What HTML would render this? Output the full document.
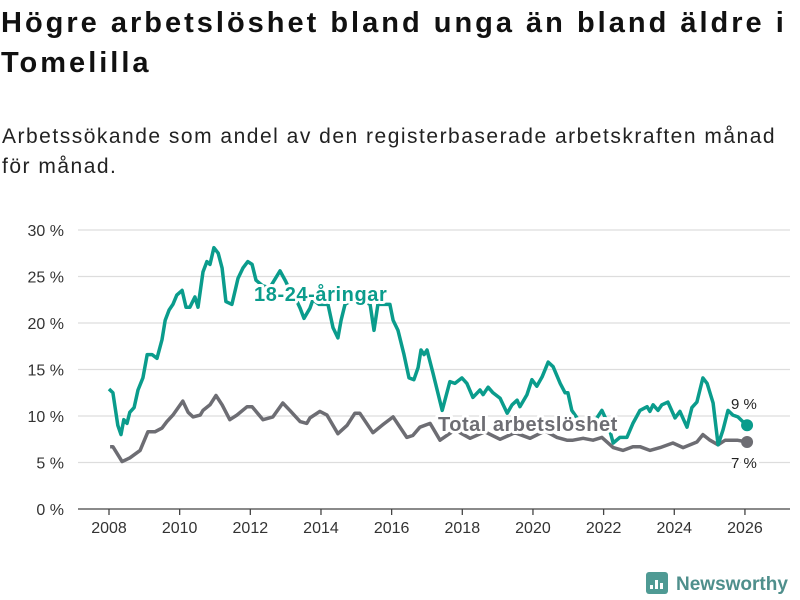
<!DOCTYPE html>
<html><head><meta charset="utf-8">
<style>
body{margin:0;width:800px;height:600px;background:#fff;font-family:"Liberation Sans",sans-serif;overflow:hidden;position:relative;color:#111}
h1{position:absolute;left:1px;top:3px;margin:0;font-size:29px;line-height:40px;font-weight:bold;width:800px;letter-spacing:3px;white-space:nowrap}
p{position:absolute;left:2px;top:122px;margin:0;font-size:21px;line-height:30px;color:#222;width:800px;letter-spacing:1.5px;white-space:nowrap}
svg{position:absolute;left:0;top:0}
</style></head><body>
<h1>Högre arbetslöshet bland unga än bland äldre i<br>Tomelilla</h1>
<p>Arbetssökande som andel av den registerbaserade arbetskraften månad<br>för månad.</p>
<svg id="chart" width="800" height="600"></svg>
<script>
const youthYears=[2008.00,2008.11,2008.25,2008.34,2008.42,2008.51,2008.59,2008.71,2008.82,2008.96,2009.08,2009.22,2009.36,2009.50,2009.59,2009.70,2009.81,2009.92,2010.07,2010.18,2010.29,2010.43,2010.52,2010.66,2010.77,2010.86,2010.97,2011.09,2011.20,2011.31,2011.48,2011.65,2011.79,2011.93,2012.05,2012.16,2012.35,2012.55,2012.84,2013.00,2013.12,2013.30,2013.41,2013.52,2013.69,2013.77,2013.95,2014.20,2014.34,2014.48,2014.57,2014.68,2014.90,2015.15,2015.39,2015.50,2015.61,2015.95,2016.04,2016.18,2016.35,2016.49,2016.63,2016.75,2016.83,2016.92,2017.00,2017.17,2017.43,2017.65,2017.79,2017.99,2018.13,2018.30,2018.50,2018.59,2018.73,2018.87,2019.07,2019.27,2019.41,2019.55,2019.63,2019.83,2019.97,2020.11,2020.26,2020.43,2020.57,2020.77,2020.91,2020.99,2021.10,2021.30,2021.47,2021.76,2021.95,2022.12,2022.27,2022.46,2022.66,2022.83,2023.03,2023.23,2023.31,2023.40,2023.54,2023.65,2023.82,2024.02,2024.16,2024.36,2024.50,2024.64,2024.81,2024.93,2025.10,2025.24,2025.38,2025.52,2025.66,2025.80,2025.94,2026.06];
const youthValues=[12.9,12.5,9.0,8.0,9.6,9.2,10.4,10.9,12.8,14.1,16.6,16.6,16.2,18.2,20.3,21.4,22.0,23.0,23.5,21.7,21.7,22.8,21.7,25.5,26.6,26.3,28.1,27.5,25.9,22.3,22.0,24.8,25.9,26.6,26.3,24.6,24.0,23.8,25.6,24.5,23.5,22.5,21.6,20.5,21.6,22.5,22.0,22.0,19.5,18.4,20.3,22.0,22.5,22.5,22.0,19.2,22.0,22.0,20.3,19.2,16.6,14.1,13.9,15.2,17.1,16.6,17.1,14.6,10.6,13.7,13.5,14.1,13.5,12.0,12.8,12.3,13.1,12.5,11.9,10.3,11.2,11.7,11.0,12.3,13.9,13.2,14.2,15.8,15.3,13.5,12.5,12.5,10.6,9.5,9.0,9.5,10.6,9.2,7.1,7.7,7.7,9.2,10.6,11.0,10.5,11.2,10.6,11.2,11.5,9.8,10.5,8.8,10.9,11.5,14.1,13.5,11.4,6.9,8.5,10.6,10.1,9.9,9.4,9.0];
const totalYears=[2008.03,2008.11,2008.37,2008.59,2008.88,2009.10,2009.30,2009.50,2009.64,2009.81,2010.09,2010.24,2010.38,2010.58,2010.66,2010.86,2011.03,2011.20,2011.42,2011.62,2011.91,2012.05,2012.36,2012.64,2012.92,2013.12,2013.41,2013.60,2013.69,2013.97,2014.17,2014.48,2014.74,2014.96,2015.10,2015.47,2015.76,2016.04,2016.43,2016.60,2016.80,2017.09,2017.37,2017.79,2018.22,2018.64,2019.07,2019.49,2019.92,2020.34,2020.68,2020.96,2021.13,2021.42,2021.70,2021.95,2022.27,2022.55,2022.83,2023.03,2023.31,2023.60,2023.96,2024.25,2024.64,2024.81,2025.01,2025.24,2025.44,2025.78,2026.06];
const totalValues=[6.7,6.7,5.1,5.5,6.3,8.3,8.3,8.7,9.4,10.1,11.6,10.4,9.9,10.1,10.6,11.2,12.2,11.2,9.6,10.1,11.0,11.0,9.6,9.9,11.4,10.6,9.4,9.2,9.8,10.5,10.1,8.1,9.0,10.3,10.3,8.2,9.1,9.9,7.7,7.9,8.8,9.2,7.4,8.5,7.6,8.3,7.5,8.2,7.6,8.4,7.7,7.4,7.4,7.6,7.4,7.7,6.6,6.3,6.7,6.7,6.3,6.6,7.1,6.6,7.2,8.0,7.4,6.9,7.4,7.4,7.2];
const yTicks=[0,5,10,15,20,25,30];
const xTicks=[2008,2010,2012,2014,2016,2018,2020,2022,2024,2026];

const NS="http://www.w3.org/2000/svg";
const svg=document.getElementById('chart');
const X=y=>109+(y-2008)*35.33;
const Y=v=>509-v*9.3;
function mk(t,a){const e=document.createElementNS(NS,t);for(const k in a)e.setAttribute(k,a[k]);svg.appendChild(e);return e;}
yTicks.forEach(v=>{
  const g=mk('line',{x1:78,x2:790,y1:Y(v),y2:Y(v),stroke:v===0?'#444':'#ddd','stroke-width':1.3});
  
  
  const t=mk('text',{x:64,y:Y(v)+6,'text-anchor':'end','font-size':16,fill:'#333','font-family':'Liberation Sans, sans-serif'});
  t.textContent=v+' %';
  
  
});
xTicks.forEach(v=>{
  const l=mk('line',{x1:X(v),x2:X(v),y1:509,y2:515,stroke:'#444','stroke-width':1.3});
  
  
  const t=mk('text',{x:X(v),y:533,'text-anchor':'middle','font-size':16,fill:'#333','font-family':'Liberation Sans, sans-serif'});
  t.textContent=v;
  
  
});
function line(xs,vs,color,name){
  const d=xs.map((x,i)=>(i?'L':'M')+X(x).toFixed(1)+','+Y(vs[i]).toFixed(1)).join('');
  const p=mk('path',{d:d,fill:'none',stroke:color,'stroke-width':3.5,'stroke-linejoin':'round'});
  
  
  const c=mk('circle',{cx:X(xs[xs.length-1]),cy:Y(vs[vs.length-1]),r:6,fill:color});
  
  
}
line(totalYears,totalValues,'#6d6d73','total-line');
line(youthYears,youthValues,'#0a9c8c','youth-line');
function lbl(x,y,txt,color,size,name,bold,halo,ls){
  const t=mk('text',{x:x,y:y,'font-size':size,fill:color,'font-weight':bold?'bold':'normal','font-family':'Liberation Sans, sans-serif','letter-spacing':ls||0});
  if(halo){t.setAttribute('stroke','#fff');t.setAttribute('stroke-width',6);t.setAttribute('paint-order','stroke');t.setAttribute('stroke-linejoin','round');}
  t.textContent=txt;
  
  
}
lbl(254,301,'18-24-åringar','#0a9c8c',20,'youth-series-label',true,true,0.6);
lbl(438,431,'Total arbetslöshet','#6d6d73',20,'total-series-label',true,true,0.5);
lbl(731,409,'9 %','#222',15,'youth-end-value',false,true);
lbl(731,468,'7 %','#222',15,'total-end-value',false,true);
const r=mk('rect',{x:646,y:572,width:22,height:22,rx:3,fill:'#4f9a94'});


[[650,585,4],[655,580,9],[660,583,6]].forEach(b=>{
  const e=mk('rect',{x:b[0],y:b[1],width:3,height:b[2],fill:'#fff'});
  
  
});
lbl(676,590,'Newsworthy','#4f8f8c',19,'newsworthy-logo-text',true,false);
</script>
</body></html>
